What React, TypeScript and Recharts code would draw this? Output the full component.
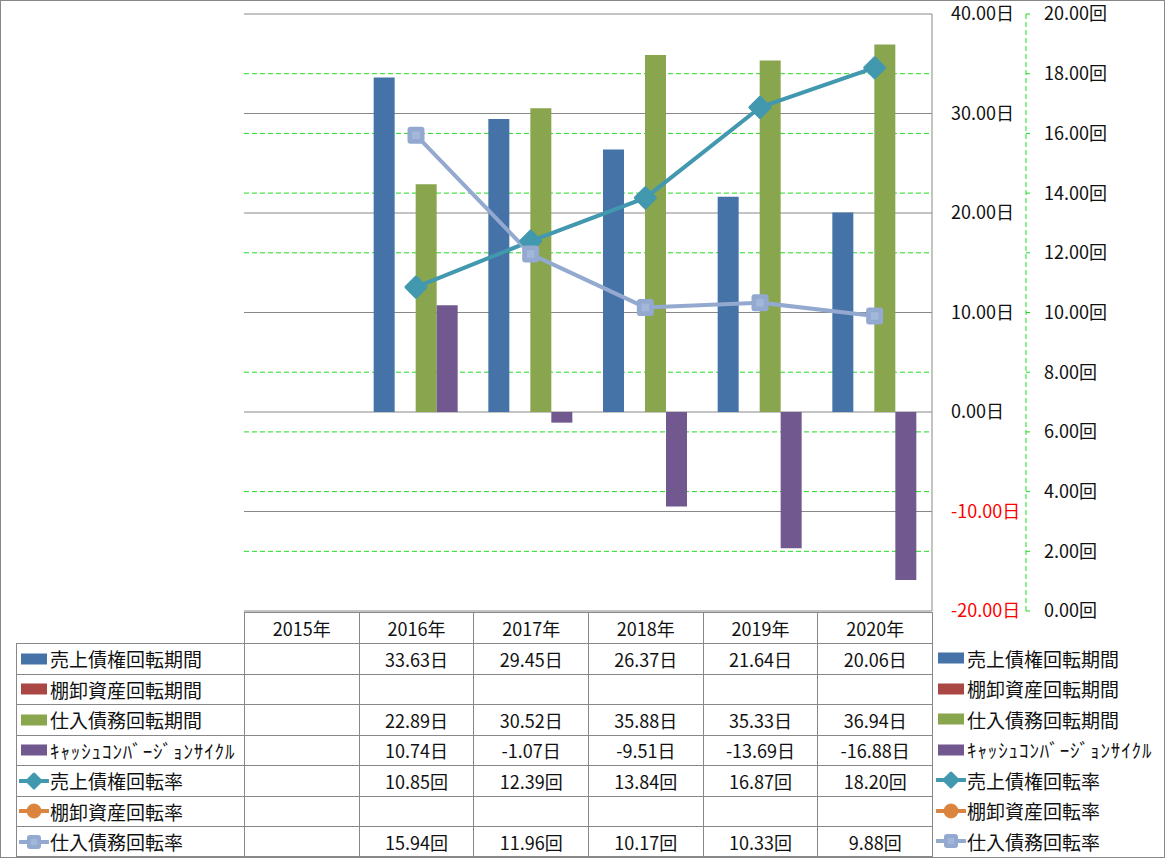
import React from 'react';
import { ComposedChart, Bar, Line, XAxis, YAxis, CartesianGrid } from 'recharts';

// ---------- data ----------
const years = ['2015年', '2016年', '2017年', '2018年', '2019年', '2020年'];
const arPeriod: (number | null)[] = [null, 33.63, 29.45, 26.37, 21.64, 20.06];
const invPeriod: (number | null)[] = [null, null, null, null, null, null];
const apPeriod: (number | null)[] = [null, 22.89, 30.52, 35.88, 35.33, 36.94];
const cccPeriod: (number | null)[] = [null, 10.74, -1.07, -9.51, -13.69, -16.88];
const arTurnover: (number | null)[] = [null, 10.85, 12.39, 13.84, 16.87, 18.2];
const invTurnover: (number | null)[] = [null, null, null, null, null, null];
const apTurnover: (number | null)[] = [null, 15.94, 11.96, 10.17, 10.33, 9.88];
const leftTicks = [-20, -10, 0, 10, 20, 30, 40];
const rightTicks = [0, 2, 4, 6, 8, 10, 12, 14, 16, 18, 20];

type Series = {
  key: string;
  name: string;
  values: (number | null)[];
  unit: string;
  kind: 'bar' | 'line';
  color: string;
  marker?: 'diamond' | 'circle' | 'square';
};

const series: Series[] = [
  { key: 'ar', name: '売上債権回転期間', values: arPeriod, unit: '日', kind: 'bar', color: '#4572A7' },
  { key: 'inv', name: '棚卸資産回転期間', values: invPeriod, unit: '日', kind: 'bar', color: '#AA4643' },
  { key: 'ap', name: '仕入債務回転期間', values: apPeriod, unit: '日', kind: 'bar', color: '#89A54E' },
  { key: 'ccc', name: 'ｷｬｯｼｭｺﾝﾊﾞｰｼﾞｮﾝｻｲｸﾙ', values: cccPeriod, unit: '日', kind: 'bar', color: '#71588F' },
  { key: 'arT', name: '売上債権回転率', values: arTurnover, unit: '回', kind: 'line', color: '#4198AF', marker: 'diamond' },
  { key: 'invT', name: '棚卸資産回転率', values: invTurnover, unit: '回', kind: 'line', color: '#DB843D', marker: 'circle' },
  { key: 'apT', name: '仕入債務回転率', values: apTurnover, unit: '回', kind: 'line', color: '#93A9CF', marker: 'square' },
];

const data = years.map((y, i) => {
  const row: Record<string, any> = { year: y };
  series.forEach((s) => (row[s.key] = s.values[i]));
  return row;
});

// ---------- layout ----------
const W = 1165;
const H = 858;
const PLOT_LEFT = 244;
const PLOT_TOP = 14;
const PLOT_RIGHT = 932;
const PLOT_BOTTOM = 611;
const LEFT_AXIS_W = 94;
const RIGHT_AXIS_W = W - PLOT_RIGHT - LEFT_AXIS_W;
const FONT = '"Noto Sans CJK JP", "Noto Sans", sans-serif';
const GRID_GRAY = '#888888';
const GREEN = '#1EDC1E';

const colW = (PLOT_RIGHT - PLOT_LEFT) / years.length;
const HEADER_TOP = 612;
const ROW_TOP = 643;
const ROW_H = 30.5;
const TABLE_LEFT = 16;

const Marker = ({ kind, color, cx, cy, size }: { kind?: string; color: string; cx: number; cy: number; size: number }) => {
  if (kind === 'diamond') {
    const r = size / 2;
    return (
      <path
        d={`M${cx},${cy - r} L${cx + r},${cy} L${cx},${cy + r} L${cx - r},${cy} Z`}
        fill={color}
        stroke={color}
        strokeWidth={3}
        strokeLinejoin="round"
      />
    );
  }
  if (kind === 'circle') {
    return <circle cx={cx} cy={cy} r={size / 2} fill={color} stroke={color} />;
  }
  if (kind === 'square') {
    const r = size / 2;
    return (
      <g>
        <rect x={cx - r} y={cy - r} width={size} height={size} rx={3} fill={color} />
        <rect x={cx - r * 0.45} y={cy - r * 0.45} width={r * 0.9} height={r * 0.9} fill="#A3B7DA" />
      </g>
    );
  }
  return null;
};

const makeDot = (s: Series, size: number) => (props: any) => {
  const { cx, cy, value, index } = props;
  if (value === null || value === undefined || cx == null || cy == null) return <g key={`${s.key}-${index}`} />;
  return (
    <g key={`${s.key}-${index}`}>
      <Marker kind={s.marker} color={s.color} cx={cx} cy={cy} size={size} />
    </g>
  );
};

const LeftTick = (props: any) => {
  const { x, y, payload } = props;
  const v = payload.value as number;
  return (
    <text x={x} y={y} dy="0.36em" textAnchor="start" fill={v < 0 ? '#FF0000' : '#111'} fontSize={18} fontFamily={FONT}>
      {v.toFixed(2)}日
    </text>
  );
};

const RightTick = (props: any) => {
  const { x, y, payload } = props;
  const v = payload.value as number;
  return (
    <text x={x} y={y} dy="0.36em" textAnchor="start" fill="#111" fontSize={18} fontFamily={FONT}>
      {v.toFixed(2)}回
    </text>
  );
};

const LegendKey = ({ s }: { s: Series }) => {
  if (s.kind === 'bar') {
    return (
      <svg width={30} height={14} style={{ display: 'block' }}>
        <rect x={2} y={1.5} width={26} height={11} fill={s.color} />
      </svg>
    );
  }
  return (
    <svg width={30} height={20} style={{ display: 'block' }}>
      <line x1={1} y1={10} x2={29} y2={10} stroke={s.color} strokeWidth={4} strokeLinecap="round" />
      <Marker kind={s.marker} color={s.color} cx={15} cy={10} size={14} />
    </svg>
  );
};

const fmt = (v: number | null, unit: string) => (v === null || v === undefined ? '' : `${v.toFixed(2)}${unit}`);

const border = `1px solid ${GRID_GRAY}`;

const LegendLabel = ({ s }: { s: Series }) => (
  <span style={{ marginLeft: 1, letterSpacing: s.key === 'ccc' ? '0.9px' : undefined }}>{s.name}</span>
);

export default function App() {
  return (
    <div
      style={{
        position: 'absolute',
        left: 0,
        top: 0,
        width: W,
        height: H,
        background: '#fff',
        fontFamily: FONT,
        color: '#111',
        overflow: 'hidden',
      }}
    >
      <ComposedChart
        width={W}
        height={H}
        data={data}
        margin={{ top: PLOT_TOP, left: PLOT_LEFT, right: 0, bottom: H - PLOT_BOTTOM }}
        barCategoryGap={15}
        barGap={0}
      >
        <XAxis dataKey="year" hide xAxisId="x" />
        <YAxis
          yAxisId="left"
          orientation="right"
          width={LEFT_AXIS_W}
          domain={[-20, 40]}
          ticks={leftTicks}
          interval={0}
          allowDataOverflow
          axisLine={{ stroke: GRID_GRAY, strokeWidth: 1 }}
          tickLine={false}
          tickSize={0}
          tickMargin={19}
          tick={<LeftTick />}
        />
        <YAxis
          yAxisId="right"
          orientation="right"
          width={RIGHT_AXIS_W}
          domain={[0, 20]}
          ticks={rightTicks}
          interval={0}
          allowDataOverflow
          axisLine={{ stroke: GREEN, strokeWidth: 1, strokeDasharray: '5 3' }}
          tickLine={{ stroke: GREEN, strokeWidth: 1 }}
          tickSize={4}
          tickMargin={14}
          tick={<RightTick />}
        />
        <CartesianGrid
          xAxisId="x"
          yAxisId="right"
          vertical={false}
          horizontalValues={rightTicks.filter((t) => t > 0 && t < 20)}
          stroke={GREEN}
          strokeDasharray="5 3"
        />
        <CartesianGrid xAxisId="x" yAxisId="left" vertical={false} horizontalValues={leftTicks} stroke={GRID_GRAY} />
        {series
          .filter((s) => s.kind === 'bar')
          .map((s) => (
            <Bar key={s.key} xAxisId="x" yAxisId="left" dataKey={s.key} name={s.name} fill={s.color} isAnimationActive={false} />
          ))}
        {series
          .filter((s) => s.kind === 'line')
          .map((s) => (
            <Line
              key={s.key}
              xAxisId="x"
              yAxisId="right"
              type="linear"
              dataKey={s.key}
              name={s.name}
              stroke={s.color}
              strokeWidth={4}
              dot={makeDot(s, s.marker === 'diamond' ? 20 : 17)}
              activeDot={false}
              isAnimationActive={false}
            />
          ))}
      </ComposedChart>

      {/* data table header */}
      {years.map((y, i) => (
        <div
          key={y}
          style={{
            position: 'absolute',
            left: PLOT_LEFT + i * colW,
            top: HEADER_TOP,
            width: colW,
            height: ROW_TOP - HEADER_TOP,
            borderLeft: border,
            borderTop: border,
            boxSizing: 'border-box',
            display: 'flex',
            alignItems: 'center',
            justifyContent: 'center',
            fontSize: 18,
          }}
        >
          {y}
        </div>
      ))}
      <div
        style={{
          position: 'absolute',
          left: PLOT_RIGHT,
          top: HEADER_TOP,
          width: 1,
          height: H - HEADER_TOP - 1,
          background: GRID_GRAY,
        }}
      />
      {/* data table rows */}
      {series.map((s, r) => (
        <React.Fragment key={s.key}>
          <div
            style={{
              position: 'absolute',
              left: TABLE_LEFT,
              top: ROW_TOP + r * ROW_H,
              width: PLOT_LEFT - TABLE_LEFT,
              height: ROW_H,
              borderLeft: border,
              borderTop: border,
              boxSizing: 'border-box',
              display: 'flex',
              alignItems: 'center',
              paddingLeft: 2,
              fontSize: 19,
              whiteSpace: 'nowrap',
            }}
          >
            <LegendKey s={s} />
            <LegendLabel s={s} />
          </div>
          {s.values.map((v, i) => (
            <div
              key={i}
              style={{
                position: 'absolute',
                left: PLOT_LEFT + i * colW,
                top: ROW_TOP + r * ROW_H,
                width: colW,
                height: ROW_H,
                borderLeft: border,
                borderTop: border,
                boxSizing: 'border-box',
                display: 'flex',
                alignItems: 'center',
                justifyContent: 'center',
                fontSize: 18,
              }}
            >
              {fmt(v, s.unit)}
            </div>
          ))}
          {/* right-hand legend */}
          <div
            style={{
              position: 'absolute',
              left: PLOT_RIGHT + 4,
              top: ROW_TOP + r * ROW_H,
              height: ROW_H,
              display: 'flex',
              alignItems: 'center',
              fontSize: 19,
              whiteSpace: 'nowrap',
            }}
          >
            <LegendKey s={s} />
            <LegendLabel s={s} />
          </div>
        </React.Fragment>
      ))}
      <div
        style={{
          position: 'absolute',
          left: TABLE_LEFT,
          top: ROW_TOP + series.length * ROW_H - 1,
          width: PLOT_RIGHT - TABLE_LEFT,
          height: 1,
          background: GRID_GRAY,
        }}
      />
      {/* outer border */}
      <div
        style={{
          position: 'absolute',
          left: 0,
          top: 0,
          width: W,
          height: H,
          border: border,
          boxSizing: 'border-box',
          pointerEvents: 'none',
        }}
      />
    </div>
  );
}
